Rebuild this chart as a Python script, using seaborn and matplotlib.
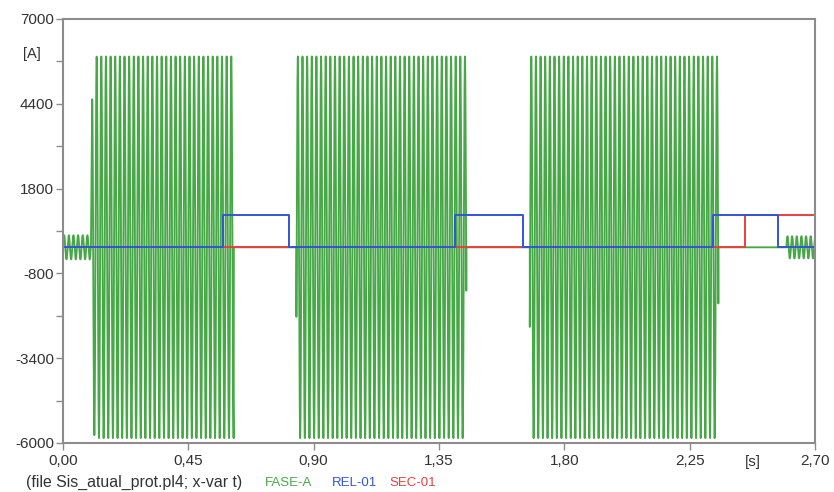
import numpy as np
import pandas as pd
import matplotlib
matplotlib.use("Agg")
import matplotlib.pyplot as plt
import seaborn as sns

# ---- data -------------------------------------------------------------
# phase-A current: (start s, end s, peak A, start phase rad, ramp tau s)
fase_segments = [
    (0.000, 0.100, 370.0, 0.0, 0.0),
    (0.100, 0.613, 5850.0, 0.0, 0.003),
    (0.838, 1.448, 5850.0, -0.386, 0.0),
    (1.676, 2.353, 5850.0, -0.44, 0.0),
    (2.597, 2.700, 340.0, 0.0, 0.0),
]
freq_hz = 60.0

# relay trip signal (steps)
rel_times = [0.000, 0.576, 0.813, 1.409, 1.651, 2.333, 2.568, 2.700]
rel_values = [0, 1000, 0, 1000, 0, 1000, 0, 0]

# sectionaliser signal (steps)
sec_times = [0.000, 2.449, 2.700]
sec_values = [0, 1000, 1000]

y_major = [-6000, -3400, -800, 1800, 4400, 7000]
y_minor = [-4700, -2100, 500, 3100, 5700]
x_major = [0.00, 0.45, 0.90, 1.35, 1.80, 2.25, 2.70]
x_labels = ["0,00", "0,45", "0,90", "1,35", "1,80", "2,25", "2,70"]

# ---- build the phase-A waveform ----------------------------------------
t = np.linspace(0.0, 2.7, 60001)
i_a = np.zeros_like(t)
for t0, t1, amp, ph, tau in fase_segments:
    m = (t >= t0) & (t < t1)
    tt = t[m] - t0
    env = np.ones_like(tt) if tau == 0 else 1.0 - np.exp(-tt / tau)
    i_a[m] = amp * env * np.sin(2 * np.pi * freq_hz * tt + ph)

fase_df = pd.DataFrame({"t": t, "i": i_a})
rel_df = pd.DataFrame({"t": rel_times, "v": rel_values})
sec_df = pd.DataFrame({"t": sec_times, "v": sec_values})

# ---- figure -----------------------------------------------------------
sns.set_style("white")
plt.rcParams["font.family"] = ["Liberation Sans", "DejaVu Sans"]

green = "#48a848"
blue = "#3355d6"
red = "#e8403f"
text_col = "#333333"

fig = plt.figure(figsize=(8.34, 4.92), dpi=100)
ax = fig.add_axes([63 / 834, 49 / 492, (815 - 63) / 834, (443 - 19) / 492])

sns.lineplot(data=fase_df, x="t", y="i", ax=ax, color=green,
             linewidth=1.35, estimator=None, sort=False)
sns.lineplot(data=sec_df, x="t", y="v", ax=ax, color=red,
             linewidth=1.4, estimator=None, drawstyle="steps-post")
sns.lineplot(data=rel_df, x="t", y="v", ax=ax, color=blue,
             linewidth=1.4, estimator=None, drawstyle="steps-post")

ax.set_xlim(0, 2.7)
ax.set_ylim(-6000, 7000)
ax.set_xlabel("")
ax.set_ylabel("")

ax.set_yticks(y_major)
ax.set_yticklabels([str(v) for v in y_major])
ax.set_yticks(y_minor, minor=True)
ax.set_xticks(x_major)
ax.set_xticklabels(x_labels)

frame_col = "#8c8c8c"
for side in ["left", "right", "top", "bottom"]:
    ax.spines[side].set_visible(True)
    ax.spines[side].set_color(frame_col)
    ax.spines[side].set_linewidth(1.5)

ax.tick_params(axis="both", which="both", direction="out", length=5,
               width=1.0, color=frame_col, labelsize=11, labelcolor=text_col,
               left=True, bottom=True, pad=1.5)
ax.tick_params(axis="x", pad=3)
ax.grid(False)

# unit labels and footer
fig.text(32 / 834, 1 - 54 / 492, "[A]", fontsize=10.5, color=text_col,
         ha="center", va="center")
fig.text(753 / 834, 1 - 462 / 492, "[s]", fontsize=11, color=text_col,
         ha="center", va="center")
fig.text(26 / 834, 1 - 482 / 492, "(file Sis_atual_prot.pl4; x-var t)",
         fontsize=11.4, color=text_col, ha="left", va="center")
fig.text(265 / 834, 1 - 483 / 492, "FASE-A", fontsize=9.5, color=green,
         ha="left", va="center")
fig.text(332 / 834, 1 - 483 / 492, "REL-01", fontsize=9.5, color=blue,
         ha="left", va="center")
fig.text(389 / 834, 1 - 483 / 492, "SEC-01", fontsize=9.5, color=red,
         ha="left", va="center")

fig.savefig("out.png", dpi=100, facecolor="white")
